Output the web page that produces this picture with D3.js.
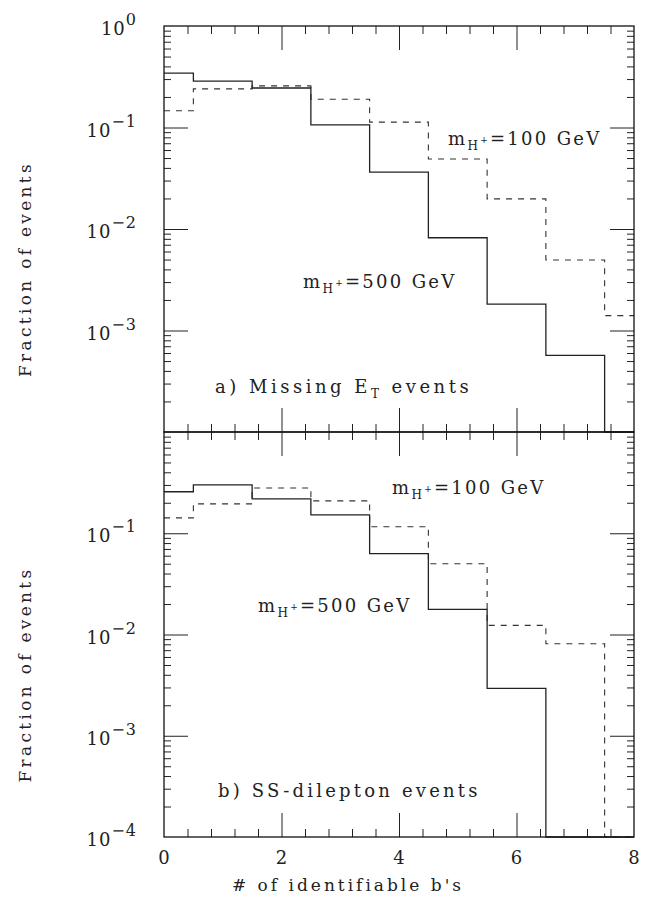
<!DOCTYPE html>
<html lang="en">
<head>
	<meta charset="UTF-8">
	<script src="https://d3js.org/d3.v7.min.js"></script>
	<title>Fraction of events vs # of identifiable b's</title>
</head>
<style>
	body { margin: 0; background: #fff; }
	text { font-family: "DejaVu Serif", serif; fill: #222; }
</style>
<body>
	<svg width="645" height="897"></svg>
</body>
<script>
	// bins are centred on 0,1,...,8 (# of b's)
	var nB = [0, 1, 2, 3, 4, 5, 6, 7, 8];

	// a) Missing E_T events
	var metHeavy = [0.344, 0.287, 0.245, 0.106, 0.0364, 0.0082, 0.00182, 0.00057, 0];   // m_H+ = 500 GeV
	var metLight = [0.146, 0.240, 0.257, 0.190, 0.113, 0.049, 0.0198, 0.00495, 0.0014]; // m_H+ = 100 GeV

	// b) SS-dilepton events
	var ssHeavy = [0.257, 0.300, 0.219, 0.152, 0.063, 0.0177, 0.00294, 0, 0];
	var ssLight = [0.142, 0.195, 0.280, 0.209, 0.116, 0.050, 0.0123, 0.0081, 0];

	var xTicks = [0, 2, 4, 6, 8];
	var decades = [0, -1, -2, -3, -4];

	var svg = d3.select('svg');
	var left = 164, right = 634;
	var x = d3.scaleLinear().domain([0, 8]).range([left, right]);

	var panels = [
		{ top: 26, bottom: 432, heavy: metHeavy, light: metLight, labels: [0, -1, -2, -3] },
		{ top: 432, bottom: 837, heavy: ssHeavy, light: ssLight, labels: [-1, -2, -3, -4] }
	];

	panels.forEach(function(p) {
		p.y = d3.scaleLog().domain([1e-4, 1]).range([p.bottom, p.top]);
	});

	function stepPoints(vals) {
		var pts = [];
		vals.forEach(function(v, i) {
			var x0 = Math.max(0, nB[i] - 0.5);
			pts.push([x0, Math.max(v, 1e-4)]);
		});
		pts.push([8, Math.max(vals[vals.length - 1], 1e-4)]);
		return pts;
	}

	var g = svg.append('g');

	panels.forEach(function(p) {
		var y = p.y;
		var line = d3.line()
			.x(function(d) { return x(d[0]); })
			.y(function(d) { return y(d[1]); })
			.curve(d3.curveStepAfter);

		g.append('path')
			.attr('d', line(stepPoints(p.light)))
			.attr('fill', 'none')
			.attr('stroke', '#333')
			.attr('stroke-width', 1.1)
			.attr('stroke-dasharray', '6,6');

		g.append('path')
			.attr('d', line(stepPoints(p.heavy)))
			.attr('fill', 'none')
			.attr('stroke', '#222')
			.attr('stroke-width', 1.3);

		// log ticks on left and right (inside)
		var minor = [];
		decades.forEach(function(e) {
			if (e === -4) return;
			for (var m = 2; m <= 9; m++) minor.push(m * Math.pow(10, e - 1));
		});
		var majors = decades.map(function(e) { return Math.pow(10, e); })
			.filter(function(v) { return y(v) > p.top + 1 && y(v) < p.bottom - 1; });

		g.append('g').call(d3.axisRight(y).tickValues(minor).tickSize(7).tickFormat(''))
			.attr('transform', 'translate(' + left + ',0)');
		g.append('g').call(d3.axisLeft(y).tickValues(minor).tickSize(7).tickFormat(''))
			.attr('transform', 'translate(' + right + ',0)');
		g.append('g').call(d3.axisRight(y).tickValues(majors).tickSize(24).tickFormat(''))
			.attr('transform', 'translate(' + left + ',0)');
		g.append('g').call(d3.axisLeft(y).tickValues(majors).tickSize(24).tickFormat(''))
			.attr('transform', 'translate(' + right + ',0)');

		// x ticks on top and bottom edge of panel (inside)
		var xMinor = d3.range(0.4, 8, 0.4).filter(function(v) { return Math.abs(v / 2 - Math.round(v / 2)) > 0.01; });
		var xMajor = [2, 4, 6];
		g.append('g').call(d3.axisBottom(x).tickValues(xMinor).tickSize(8).tickFormat(''))
			.attr('transform', 'translate(0,' + p.top + ')');
		g.append('g').call(d3.axisTop(x).tickValues(xMinor).tickSize(8).tickFormat(''))
			.attr('transform', 'translate(0,' + p.bottom + ')');
		g.append('g').call(d3.axisBottom(x).tickValues(xMajor).tickSize(24).tickFormat(''))
			.attr('transform', 'translate(0,' + p.top + ')');
		g.append('g').call(d3.axisTop(x).tickValues(xMajor).tickSize(24).tickFormat(''))
			.attr('transform', 'translate(0,' + p.bottom + ')');

		// frame
		g.append('rect')
			.attr('x', left).attr('y', p.top)
			.attr('width', right - left).attr('height', p.bottom - p.top)
			.attr('fill', 'none').attr('stroke', '#111').attr('stroke-width', 1.3);

		// y tick labels 10^e
		p.labels.forEach(function(e) {
			var t = g.append('text')
				.attr('x', 137).attr('y', y(Math.pow(10, e)) + 9)
				.attr('text-anchor', 'end')
				.attr('font-size', 18)
				.attr('letter-spacing', 1);
			t.append('tspan').text('10');
			t.append('tspan').attr('dy', -10).attr('font-size', 16)
				.text(e === 0 ? '0' : '\u2212' + (-e));
		});

		// y axis title
		g.append('text')
			.attr('transform', 'translate(31,' + ((p.top + p.bottom) / 2 + 40) + ') rotate(-90)')
			.attr('text-anchor', 'middle')
			.attr('font-size', 17)
			.attr('letter-spacing', 3.3)
			.text('Fraction of events');
	});

	g.selectAll('.domain').remove();
	g.selectAll('.tick line').attr('stroke', '#222').attr('stroke-width', 1);

	function massLabel(px, py, mass) {
		var t = g.append('text').attr('x', px).attr('y', py).attr('font-size', 18).attr('letter-spacing', 2.3);
		t.append('tspan').text('m');
		t.append('tspan').attr('dy', 5).attr('font-size', 12).text('H');
		t.append('tspan').attr('dy', -7).attr('font-size', 9).text('+');
		t.append('tspan').attr('dy', 2).text('=' + mass + ' GeV');
	}

	massLabel(448, 145, 100);
	massLabel(303, 288, 500);
	massLabel(392, 494, 100);
	massLabel(258, 612, 500);

	var ta = g.append('text').attr('x', 215).attr('y', 393).attr('font-size', 18).attr('letter-spacing', 3.5);
	ta.append('tspan').text('a) Missing E');
	ta.append('tspan').attr('dy', 5).attr('font-size', 12).text('T');
	ta.append('tspan').attr('dy', -5).text(' events');

	g.append('text').attr('x', 218).attr('y', 797).attr('font-size', 18).attr('letter-spacing', 3.2)
		.text('b) SS-dilepton events');

	// x tick labels
	g.selectAll('.xlab')
		.data(xTicks)
		.enter()
		.append('text')
		.attr('class', 'xlab')
		.attr('x', function(d) { return x(d); })
		.attr('y', 864)
		.attr('text-anchor', 'middle')
		.attr('font-size', 18)
		.text(function(d) { return d; });

	g.append('text')
		.attr('x', 348).attr('y', 891)
		.attr('text-anchor', 'middle')
		.attr('font-size', 17)
		.attr('letter-spacing', 3)
		.text("# of identifiable b's");
</script>
</html>
